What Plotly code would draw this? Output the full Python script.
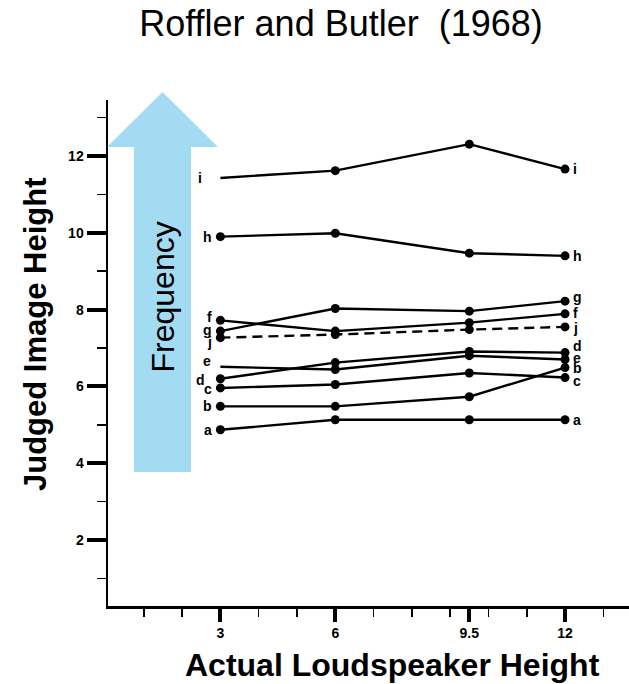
import plotly.graph_objects as go

# ---- data ----
speaker_heights = [3, 6, 9.5, 12]
x_tick_labels = ["3", "6", "9.5", "12"]
y_tick_values = [2, 4, 6, 8, 10, 12]

subject_a = [4.87, 5.13, 5.13, 5.13]
subject_b = [5.48, 5.48, 5.73, 6.49]
subject_c = [5.96, 6.05, 6.35, 6.23]
subject_d = [6.20, 6.62, 6.91, 6.88]
subject_e = [6.51, 6.44, 6.80, 6.70]
subject_f = [7.72, 7.44, 7.66, 7.89]
subject_g = [7.44, 8.03, 7.96, 8.22]
subject_h = [9.90, 9.99, 9.47, 9.40]
subject_i = [11.43, 11.62, 12.31, 11.66]
subject_j = [7.27, 7.35, 7.48, 7.55]

subjects = {
    "a": subject_a, "b": subject_b, "c": subject_c, "d": subject_d, "e": subject_e,
    "f": subject_f, "g": subject_g, "h": subject_h, "i": subject_i, "j": subject_j,
}

# ---- styles ----
W, H = 629, 684
L, R, T, B = 108, 0, 100, 78
PW, PH = W - L - R, H - T - B
BLACK = "#000000"
ARROW = "#a3dbf3"
lab_font = dict(family="Liberation Sans, Arial", size=14, color=BLACK, weight="bold")

def px(xp):
    return (xp - L) / PW

def py(yp):
    return (H - B - yp) / PH

# label offsets (pixel shifts) for left / right labels
left_shift = {"a": (0, 0), "b": (0, 0), "c": (0, -1), "d": (-7, -1), "e": (-1, 6),
              "f": (0, 3), "g": (0, 1), "h": (0, 0), "i": (-10, 0), "j": (0, -4)}
right_shift = {"a": (0, 0), "b": (0, 0), "c": (0, -3), "d": (0, 7), "e": (0, 2),
               "f": (0, 1), "g": (0, 4), "h": (0, 0), "i": (0, 0), "j": (0, -1)}
hidden_first = {"i", "e"}

fig = go.Figure()
annotations = []
for name, vals in subjects.items():
    sizes = [0 if (k == 0 and name in hidden_first) else 9 for k in range(len(vals))]
    fig.add_trace(go.Scatter(
        x=speaker_heights, y=vals, mode="lines+markers", name=name,
        line=dict(color=BLACK, width=2.4, dash="10px,6px" if name == "j" else "solid"),
        marker=dict(color=BLACK, size=sizes, line=dict(width=0), opacity=1),
        showlegend=False, hoverinfo="skip",
    ))
    dx, dy = left_shift[name]
    annotations.append(dict(x=speaker_heights[0], y=vals[0], xref="x", yref="y", text=name,
                            showarrow=False, xanchor="right", yanchor="middle",
                            xshift=-6 + dx, yshift=dy, font=lab_font))
    dx, dy = right_shift[name]
    annotations.append(dict(x=speaker_heights[-1], y=vals[-1], xref="x", yref="y", text=name,
                            showarrow=False, xanchor="left", yanchor="middle",
                            xshift=6 + dx, yshift=dy, font=lab_font))

# Frequency arrow (decoration)
shaft_l, shaft_r, shaft_b = 134, 191, 472
head_l, head_r, head_b, apex_x, apex_y = 107, 218, 147, 162.5, 92
path = (f"M {px(shaft_l)} {py(shaft_b)} L {px(shaft_r)} {py(shaft_b)} "
        f"L {px(shaft_r)} {py(head_b)} L {px(head_r)} {py(head_b)} "
        f"L {px(apex_x)} {py(apex_y)} L {px(head_l)} {py(head_b)} "
        f"L {px(shaft_l)} {py(head_b)} Z")
shapes = [dict(type="path", path=path, xref="paper", yref="paper",
               fillcolor=ARROW, line=dict(width=0), layer="above")]

annotations.append(dict(x=px(162.5), y=py(297), xref="paper", yref="paper", text="Frequency",
                        textangle=-90, showarrow=False, xanchor="center", yanchor="middle",
                        font=dict(family="Liberation Sans, Arial", size=32, color=BLACK)))
annotations.append(dict(x=px(35), y=py(335), xref="paper", yref="paper",
                        text="Judged Image Height", textangle=-90, showarrow=False,
                        xanchor="center", yanchor="middle",
                        font=dict(family="Liberation Sans, Arial", size=31, color=BLACK, weight="bold")))
annotations.append(dict(x=px(392), y=py(665), xref="paper", yref="paper",
                        text="Actual Loudspeaker Height", showarrow=False,
                        xanchor="center", yanchor="middle",
                        font=dict(family="Liberation Sans, Arial", size=32, color=BLACK, weight="bold")))

fig.update_layout(
    width=W, height=H, autosize=False,
    margin=dict(l=L, r=R, t=T, b=B, pad=0),
    paper_bgcolor="white", plot_bgcolor="white",
    title=dict(text="Roffler and Butler\u00a0 (1968)", x=341 / W, xref="container", xanchor="center",
               y=1 - 23 / H, yref="container", yanchor="middle",
               font=dict(family="Liberation Sans, Arial", size=36, color=BLACK)),
    shapes=shapes, annotations=annotations,
)
fig.update_xaxes(
    range=[0.065, 13.67], showline=True, linewidth=2.5, linecolor=BLACK, mirror=False,
    ticks="outside", tickmode="array", tickvals=speaker_heights, ticktext=x_tick_labels,
    ticklen=13, tickwidth=4, tickcolor=BLACK, tickfont=lab_font,
    showgrid=False, zeroline=False,
    minor=dict(tickmode="array", tickvals=[1, 2, 4, 5, 7, 8, 9, 10, 11, 13], ticks="outside",
               ticklen=8, tickwidth=1.5, tickcolor=BLACK, showgrid=False),
)
fig.update_yaxes(
    range=[0.28, 13.46], showline=True, linewidth=2.5, linecolor=BLACK, mirror=False,
    ticks="outside", tickmode="array", tickvals=y_tick_values,
    ticklen=19, tickwidth=4, tickcolor=BLACK, tickfont=lab_font,
    showgrid=False, zeroline=False,
    minor=dict(tickmode="array", tickvals=[1, 3, 5, 7, 9, 11, 13], ticks="outside",
               ticklen=9, tickwidth=1.5, tickcolor=BLACK, showgrid=False),
)

fig.write_html("out.html", config={"displayModeBar": False, "staticPlot": True},
               post_script="document.body.style.margin='0';document.body.style.overflow='hidden';")
